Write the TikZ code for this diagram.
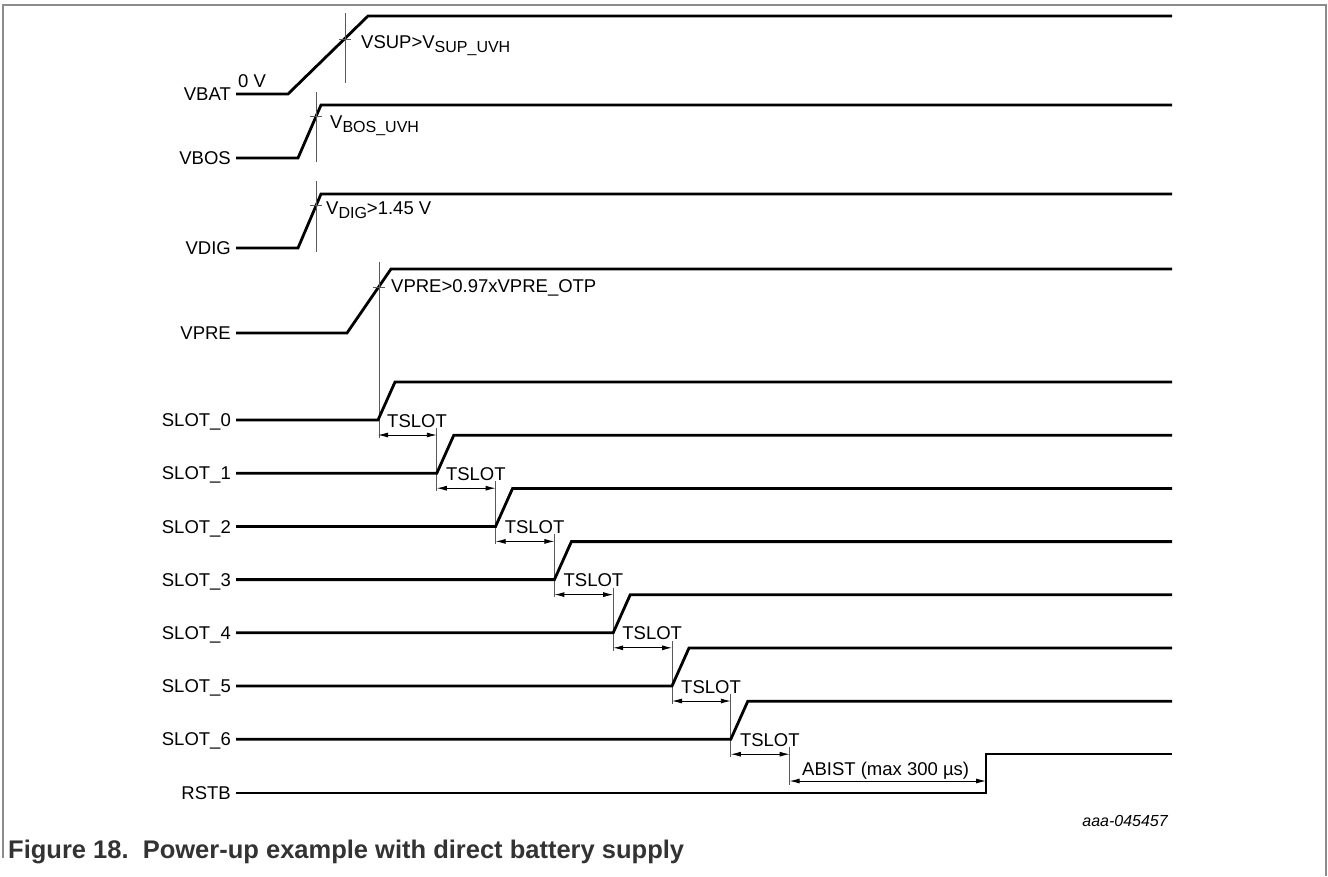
\documentclass[tikz,border=0pt]{standalone}
\usepackage{fontspec}
\setmainfont{Liberation Sans}
\usetikzlibrary{arrows.meta, calc, positioning}

\newcommand{\sigfont}{\fontsize{18.5}{21}\selectfont}
\newcommand{\sigsub}[1]{\raisebox{-4pt}{\fontsize{16}{18}\selectfont #1}}

\begin{document}
\begin{tikzpicture}[x=1pt, y=-1pt, >={Latex[length=10pt,width=5pt]},
  every node/.style={inner sep=0pt, font=\sigfont},
  lab/.style={anchor=east, text height=13.2pt, text depth=0pt},
  note/.style={anchor=base west},
  wave/.style={line width=2.8pt, line join=miter},
  guide/.style={line width=0.9pt, draw=black!65},
  dim/.style={<->, line width=0.9pt}
 ]
 \useasboundingbox (0,0) rectangle (1328,876);
 \draw [draw=black!45, line width=1.6pt] (3,858) -- (3,5) -- (1326,5) -- (1326,876);

 % supplies
 \node [lab] (VBAT) at (231,94) {VBAT};
 \node [lab] (VBOS) at (231,158) {VBOS};
 \node [lab] (VDIG) at (231,248) {VDIG};
 \node [lab] (VPRE) at (231,333) {VPRE};

 \draw [wave] ([xshift=5pt]VBAT.east) -- (288,94) -- (368,16) -- (1172,16);
 \draw [wave] ([xshift=5pt]VBOS.east) -- (298,158) -- (321,105) -- (1172,105);
 \draw [wave] ([xshift=5pt]VDIG.east) -- (298,248) -- (321,194) -- (1172,194);
 \draw [wave] ([xshift=5pt]VPRE.east) -- (347,333) -- (391,269) -- (1172,269);

 % thresholds
 \foreach \x/\y/\a/\b in {345/39/13/83, 316/116/92/162, 316/205/181/252, 379/287/262/438} {
  \draw [guide] (\x,\a) -- (\x,\b);
  \draw [guide] (\x-6,\y) -- (\x+6,\y);
 }
 \node [note] (Z) at (238,87) {0 V};
 \node [note] (TBAT) at (361,48) {VSUP>V\sigsub{SUP\_UVH}};
 \node [note] (TBOS) at (330,128) {V\sigsub{BOS\_UVH}};
 \node [note] (TDIG) at (326,214) {V\sigsub{DIG}>1.45 V};
 \node [note] (TPRE) at (391,292) {VPRE>0.97xVPRE\_OTP};

 % slots
 \foreach \i in {0,...,6} {
  \pgfmathsetmacro\yl{420+53.2*\i}
  \pgfmathsetmacro\xr{378+58.8*\i}
  \pgfmathsetmacro\yb{\i<6 ? \yl+71 : \yl+46}
  \node [lab] (S\i) at (231,\yl) {SLOT\_\i};
  \draw [wave] ([xshift=5pt]S\i.east) -- (\xr,\yl) -- (\xr+17,\yl-38) -- (1172,\yl-38);
  \coordinate (a\i) at (\xr,\yl+15);
  \coordinate (b\i) at (\xr+58.8,\yl+15);
  \draw [dim] (a\i) -- (b\i);
  \draw [guide] ($(b\i)+(0,-7)$) -- (\xr+58.8,\yb);
  \node [note] (T\i) at (\xr+9,\yl+7) {TSLOT};
 }

 % reset
 \node [lab] (RSTB) at (231,793) {RSTB};
 \draw [wave] ([xshift=5pt]RSTB.east) -- (986,793) -- (986,754) -- (1172,754);
 \coordinate (c1) at (789.6,781);
 \coordinate (c2) at (986,781);
 \draw [dim] (c1) -- (c2);
 \node [note] (AB) at (802,775) {ABIST (max 300 µs)};

 \node [anchor=base east, font=\fontsize{16}{18}\selectfont\itshape] (ID) at (1168,826) {aaa-045457};
 \node [anchor=base west, font=\fontsize{25.5}{28}\selectfont\bfseries, text=black!80] (CAP) at (8,858) {Figure 18.\ \ Power-up example with direct battery supply};
\end{tikzpicture}
\end{document}
